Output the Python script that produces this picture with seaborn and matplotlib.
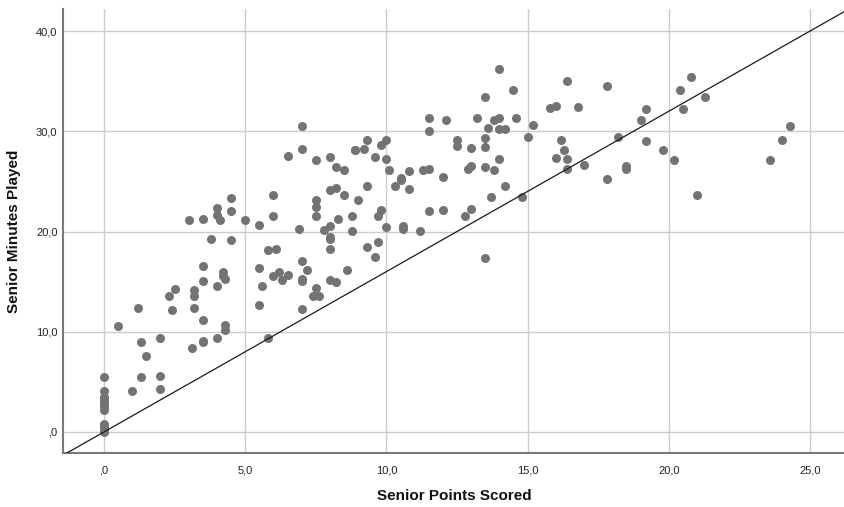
import numpy as np
import pandas as pd
import matplotlib
matplotlib.use("Agg")
import matplotlib.pyplot as plt
import seaborn as sns
from matplotlib.ticker import FuncFormatter, FixedLocator

# senior points scored vs senior minutes played
points_scored = [
    0.0, 0.0, 0.0, 0.0, 0.0, 0.0, 0.0, 0.0, 0.0, 0.0, 0.0,
    0.5, 1.0, 1.2, 1.3, 1.3, 1.5, 2.0, 2.0, 2.0,
    2.3, 2.4, 2.5, 3.0, 3.1, 3.2, 3.2, 3.2, 3.5, 3.5, 3.5, 3.5, 3.5, 3.5,
    3.8, 4.0, 4.0, 4.1, 4.0, 4.0, 4.2, 4.2, 4.3, 4.3, 4.3,
    4.5, 4.5, 4.5, 5.0, 5.5, 5.5, 5.5, 5.6, 5.8, 5.8,
    6.0, 6.0, 6.0, 6.1, 6.2, 6.3, 6.5, 6.5, 6.9,
    7.0, 7.0, 7.0, 7.0, 7.0, 7.0, 7.2, 7.4, 7.6,
    7.5, 7.5, 7.5, 7.5, 7.5, 7.8,
    8.0, 8.0, 8.0, 8.0, 8.0, 8.0, 8.0, 8.2, 8.2, 8.2, 8.3,
    8.5, 8.5, 8.6, 8.8, 8.8, 8.9, 8.9, 9.0, 9.2,
    9.3, 9.3, 9.3, 9.6, 9.6, 9.7, 9.7, 9.8, 9.8,
    10.0, 10.0, 10.0, 10.1, 10.3, 10.5, 10.5, 10.6, 10.6, 10.8, 10.8,
    11.2, 11.3, 11.5, 11.5, 11.5, 11.5, 12.0, 12.0, 12.1,
    12.5, 12.5, 12.8, 12.9, 13.0, 13.0, 13.0, 13.2,
    13.5, 13.5, 13.5, 13.5, 13.5, 13.6, 13.7, 13.8, 13.8,
    14.0, 14.0, 14.0, 14.0, 14.2, 14.2, 14.5, 14.6, 14.8, 15.0, 15.2,
    15.8, 16.0, 16.0, 16.2, 16.3, 16.4, 16.4, 16.4, 16.8, 17.0,
    17.8, 17.8, 18.2, 18.5, 18.5, 19.0, 19.2, 19.2, 19.8, 20.2,
    20.4, 20.5, 20.8, 21.0, 21.3, 23.6, 24.0, 24.3,
]
minutes_played = [
    5.5, 4.1, 3.5, 3.2, 2.9, 2.6, 2.2, 0.8, 0.5, 0.2, 0.0,
    10.6, 4.1, 12.4, 9.0, 5.5, 7.6, 9.4, 5.6, 4.3,
    13.6, 12.2, 14.3, 21.1, 8.4, 14.2, 13.6, 12.4, 21.2, 16.6, 15.1, 11.2, 9.0, 9.1,
    19.3, 22.3, 21.6, 21.1, 14.6, 9.4, 16.0, 15.6, 15.3, 10.7, 10.2,
    23.3, 22.0, 19.2, 21.1, 20.7, 16.4, 12.7, 14.6, 18.2, 9.4,
    23.6, 21.5, 15.6, 18.3, 16.0, 15.2, 15.7, 27.5, 20.3,
    30.5, 28.2, 17.1, 15.3, 15.1, 12.3, 16.2, 13.6, 13.6,
    27.1, 23.1, 22.4, 21.5, 14.4, 20.2,
    27.4, 24.1, 20.6, 19.5, 19.3, 18.3, 15.2, 26.4, 24.3, 15.0, 21.2,
    26.1, 23.6, 16.2, 21.5, 20.1, 28.1, 28.1, 23.1, 28.2,
    29.1, 24.5, 18.5, 27.4, 17.5, 21.5, 19.0, 28.6, 22.1,
    29.1, 27.2, 20.5, 26.1, 24.5, 25.3, 25.1, 20.6, 20.3, 26.0, 24.2,
    20.1, 26.1, 31.3, 30.0, 26.2, 22.0, 25.4, 22.1, 31.1,
    29.1, 28.5, 21.5, 26.2, 26.5, 28.3, 22.2, 31.3,
    33.4, 29.3, 28.4, 26.4, 17.4, 30.3, 23.4, 31.1, 26.1,
    36.2, 31.3, 30.2, 27.2, 30.2, 24.5, 34.1, 31.3, 23.4, 29.4, 30.6,
    32.3, 32.5, 27.3, 29.1, 28.1, 35.0, 27.2, 26.2, 32.4, 26.6,
    34.5, 25.2, 29.4, 26.5, 26.2, 31.1, 32.2, 29.0, 28.1, 27.1,
    34.1, 32.2, 35.4, 23.6, 33.4, 27.1, 29.1, 30.5,
]
x_ticks = [0, 5, 10, 15, 20, 25]
y_ticks = [0, 10, 20, 30, 40]
ref_slope = 1.6  # reference line through the origin

df = pd.DataFrame({"Senior Points Scored": points_scored,
                   "Senior Minutes Played": minutes_played})

sns.set_style("white")
plt.rcParams['font.family'] = ['Liberation Sans', 'DejaVu Sans']

fig = plt.figure(figsize=(8.45, 5.07), dpi=100)
ax = fig.add_axes([0.0746, 0.1065, 0.9254, 0.8757])

sns.scatterplot(data=df, x="Senior Points Scored", y="Senior Minutes Played",
                color="#737373", s=42, linewidth=0, alpha=1, ax=ax, zorder=3)

ax.set_xlim(-1.45, 26.24)
ax.set_ylim(-2.1, 42.2)

xs = np.array(ax.get_xlim())
ax.plot(xs, ref_slope * xs, color="#1a1a1a", lw=0.9, zorder=4)

ax.xaxis.set_major_locator(FixedLocator(x_ticks))
ax.yaxis.set_major_locator(FixedLocator(y_ticks))


def spss_fmt(v, pos):
    s = f"{v:.1f}".replace(".", ",")
    if s.startswith("0,"):
        s = s[1:]
    return s


ax.xaxis.set_major_formatter(FuncFormatter(spss_fmt))
ax.yaxis.set_major_formatter(FuncFormatter(spss_fmt))

ax.grid(True, color="#cccccc", lw=1.0, zorder=0)
ax.set_axisbelow(True)
for side in ["top", "right"]:
    ax.spines[side].set_visible(False)
for side in ["left", "bottom"]:
    ax.spines[side].set_color("#7a7a7a")
    ax.spines[side].set_linewidth(1.5)

ax.tick_params(axis="x", length=0, pad=9, labelsize=8, labelcolor="#222222")
ax.tick_params(axis="y", length=0, pad=4, labelsize=8, labelcolor="#222222")

ax.set_xlabel("Senior Points Scored", fontsize=11, fontweight="bold",
              color="#111111", labelpad=10)
ax.set_ylabel("Senior Minutes Played", fontsize=11, fontweight="bold",
              color="#111111", labelpad=11)

fig.savefig("out.png", dpi=100)
